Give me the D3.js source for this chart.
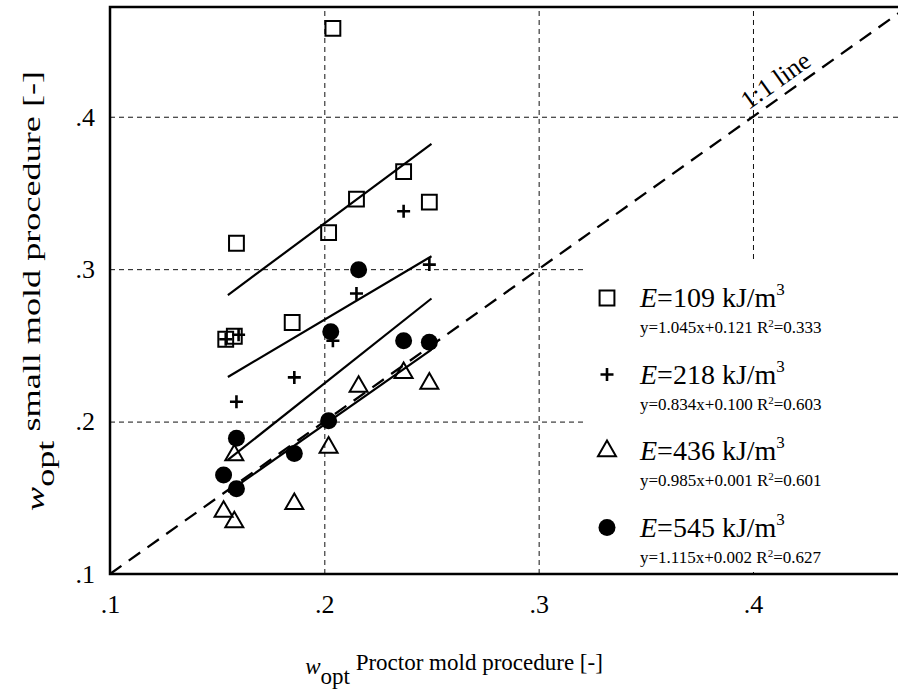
<!DOCTYPE html>
<html>
<head>
<meta charset="utf-8">
<script src="https://cdn.jsdelivr.net/npm/d3@7/dist/d3.min.js"></script>
<style>
  html, body { margin: 0; padding: 0; background: #fff; }
  svg { display: block; font-family: "Liberation Serif", "Times New Roman", serif; }
</style>
</head>
<body>
<script>
// Compaction energy levels and their linear fits (small mold vs Proctor mold w_opt)
const energies = [109, 218, 436, 545];
const fitSlopes = [1.045, 0.834, 0.985, 1.115];
const fitIntercepts = [0.121, 0.100, 0.001, 0.002];
const fitR2 = [0.333, 0.603, 0.601, 0.627];
const fitRange = [0.155, 0.25];

// Measured optimum water contents: x = Proctor mold, y = small mold
const e109x = [0.154, 0.158, 0.159, 0.185, 0.202, 0.204, 0.215, 0.237, 0.249];
const e109y = [0.254, 0.256, 0.317, 0.265, 0.324, 0.458, 0.346, 0.364, 0.344];
const e218x = [0.154, 0.160, 0.159, 0.186, 0.204, 0.215, 0.237, 0.249];
const e218y = [0.254, 0.257, 0.213, 0.229, 0.253, 0.284, 0.338, 0.303];
const e436x = [0.153, 0.158, 0.158, 0.186, 0.202, 0.216, 0.237, 0.249];
const e436y = [0.141, 0.134, 0.178, 0.146, 0.183, 0.223, 0.232, 0.225];
const e545x = [0.153, 0.159, 0.159, 0.186, 0.202, 0.203, 0.216, 0.237, 0.249];
const e545y = [0.165, 0.156, 0.189, 0.179, 0.2005, 0.259, 0.2996, 0.253, 0.252];

const tickValues = [0.1, 0.2, 0.3, 0.4];
const tickLabels = [".1", ".2", ".3", ".4"];
const gridValues = [0.2, 0.3, 0.4];
const oneToOne = [0.1, 0.47];

const W = 898, H = 696;
const L = 110, T = 7, R = 898, B = 574;

const svg = d3.select("body").append("svg").attr("width", W).attr("height", H);
const x = d3.scaleLinear().domain([0.1, 0.47]).range([L, 903]);
const y = d3.scaleLinear().domain([0.1, 0.472]).range([B, T]);

svg.append("defs").append("clipPath").attr("id", "plot")
  .append("rect").attr("x", L).attr("y", T).attr("width", R - L).attr("height", B - T);

// dashed grid
const gx = svg.append("g").attr("transform", `translate(0,${B})`)
  .call(d3.axisBottom(x).tickValues(gridValues).tickSize(-(B - T)).tickFormat(""));
gx.select(".domain").remove();
gx.selectAll("line").attr("stroke", "#111").attr("stroke-width", 1).attr("stroke-dasharray", "5,4");
const gy = svg.append("g").attr("transform", `translate(${L},0)`)
  .call(d3.axisLeft(y).tickValues(gridValues).tickSize(-(R - L)).tickFormat(""));
gy.select(".domain").remove();
gy.selectAll("line").attr("stroke", "#111").attr("stroke-width", 1).attr("stroke-dasharray", "5,4");

// frame: left, bottom, top
svg.append("path")
  .attr("d", `M${R},${T}H${L}V${B}H${R}`)
  .attr("fill", "none").attr("stroke", "#000").attr("stroke-width", 2.5);

// tick labels
const ax = svg.append("g").attr("transform", `translate(0,${B + 18})`)
  .call(d3.axisBottom(x).tickValues(tickValues).tickSize(0).tickFormat((d, i) => tickLabels[i]));
ax.select(".domain").remove();
ax.selectAll("text").attr("font-size", 26).attr("font-family", "Liberation Serif").attr("fill", "#000");
const ay = svg.append("g").attr("transform", `translate(${L - 12},0)`)
  .call(d3.axisLeft(y).tickValues(tickValues).tickSize(0).tickFormat((d, i) => tickLabels[i]));
ay.select(".domain").remove();
ay.selectAll("text").attr("font-size", 26).attr("font-family", "Liberation Serif").attr("fill", "#000");

// axis titles
function axisTitle(g, text, size, length) {
  const t = g.append("text").attr("font-size", size).attr("text-anchor", "middle").attr("fill", "#000");
  if (length) t.attr("textLength", length).attr("lengthAdjust", "spacingAndGlyphs");
  t.append("tspan").attr("font-style", "italic").attr("dy", 4).text("w");
  t.append("tspan").attr("dy", 10).text("opt");
  t.append("tspan").attr("dy", -14).text(" " + text);
}
axisTitle(svg.append("g").attr("transform", `translate(454,670)`), "Proctor mold procedure [-]", 23);
axisTitle(svg.append("g").attr("transform", `translate(40,291) rotate(-90)`), "small mold procedure [-]", 26, 440);

const plot = svg.append("g").attr("clip-path", "url(#plot)");

// 1:1 reference line
plot.append("line")
  .attr("x1", x(oneToOne[0])).attr("y1", y(oneToOne[0]))
  .attr("x2", x(oneToOne[1])).attr("y2", y(oneToOne[1]))
  .attr("stroke", "#000").attr("stroke-width", 2.3).attr("stroke-dasharray", "14,9");
const ang = Math.atan2(y(0.1) - y(0.2), x(0.2) - x(0.1)) * 180 / Math.PI;
svg.append("text")
  .attr("transform", `translate(${x(0.415)},${y(0.415)}) rotate(${-ang})`)
  .attr("dy", -8).attr("text-anchor", "middle").attr("font-size", 26).text("1:1 line");

// fit lines
energies.forEach((e, i) => {
  plot.append("line")
    .attr("x1", x(fitRange[0])).attr("y1", y(fitSlopes[i] * fitRange[0] + fitIntercepts[i]))
    .attr("x2", x(fitRange[1])).attr("y2", y(fitSlopes[i] * fitRange[1] + fitIntercepts[i]))
    .attr("stroke", "#000").attr("stroke-width", 2.2);
});

// marker drawing
const markers = [
  (g, cx, cy) => g.append("path").attr("d", d3.symbol(d3.symbolSquare, 220)()).attr("transform", `translate(${cx},${cy})`)
    .attr("fill", "none").attr("stroke", "#000").attr("stroke-width", 2),
  (g, cx, cy) => g.append("path").attr("d", `M${cx - 6.5},${cy}H${cx + 6.5}M${cx},${cy - 6.5}V${cy + 6.5}`)
    .attr("fill", "none").attr("stroke", "#000").attr("stroke-width", 2.6),
  (g, cx, cy) => g.append("path").attr("d", d3.symbol(d3.symbolTriangle, 140)()).attr("transform", `translate(${cx},${cy})`)
    .attr("fill", "none").attr("stroke", "#000").attr("stroke-width", 2),
  (g, cx, cy) => g.append("circle").attr("cx", cx).attr("cy", cy).attr("r", 8.5).attr("fill", "#000")
];
const seriesX = [e109x, e218x, e436x, e545x];
const seriesY = [e109y, e218y, e436y, e545y];
const pts = svg.append("g");
seriesX.forEach((xs, i) => {
  xs.forEach((v, j) => markers[i](pts, x(v), y(seriesY[i][j])));
});

// legend on an opaque white panel (hides the grid beneath it)
svg.append("rect").attr("x", 583).attr("y", 262).attr("width", R - 583).attr("height", B - 2 - 262)
  .attr("fill", "#fff");
energies.forEach((e, i) => {
  const g = svg.append("g").attr("transform", `translate(607,${298 + i * 76.5})`);
  markers[i](g, 0, 0);
  const t = g.append("text").attr("x", 33).attr("y", 9).attr("font-size", 28).attr("fill", "#000");
  t.append("tspan").attr("font-style", "italic").text("E");
  t.append("tspan").text(`=${e} kJ/m`);
  t.append("tspan").attr("font-size", 17).attr("dy", -12).text("3");
  const q = g.append("text").attr("x", 33).attr("y", 35).attr("font-size", 17).attr("fill", "#000");
  q.append("tspan").text(`y=${fitSlopes[i].toFixed(3)}x+${fitIntercepts[i].toFixed(3)} R`);
  q.append("tspan").attr("font-size", 11).attr("dy", -6).text("2");
  q.append("tspan").attr("dy", 6).text(`=${fitR2[i].toFixed(3)}`);
});
</script>
</body>
</html>
